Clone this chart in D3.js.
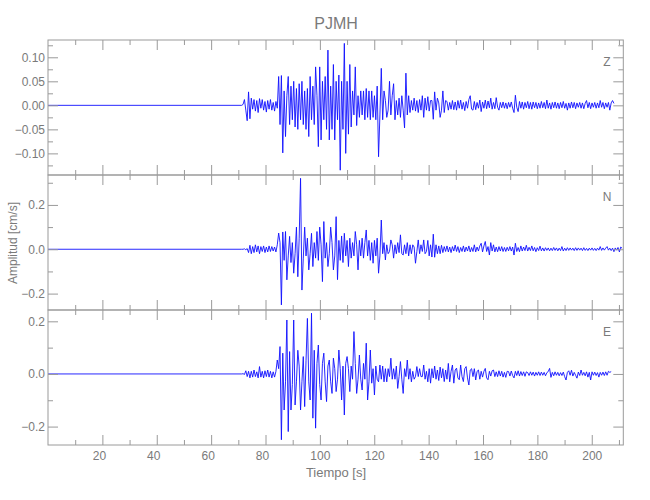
<!DOCTYPE html>
<html>
<head>
<meta charset="utf-8">
<script src="https://cdn.jsdelivr.net/npm/d3@7"></script>
<style>
  html, body { margin: 0; padding: 0; background: #fff; }
  svg { display: block; }
  text { font-family: "Liberation Sans", "DejaVu Sans", sans-serif; fill: #7a7a7a; }
</style>
</head>
<body>
<svg id="chart" width="650" height="500"></svg>
<script>
// ---------------- DATA ----------------
const stationName = "PJMH";
const componentNames = ["Z", "N", "E"];
const xLabel = "Tiempo [s]";
const yLabel = "Amplitud [cm/s]";

const recordStart = 0;        // s, record start (quiet before the onset)
const sampleStart = 71.25;    // s, first sample of the listed values
const sampleStep = 0.5033;    // s, spacing of the listed values

const timeDomain = [0, 211.6];
const timeMajorTicks = [20, 40, 60, 80, 100, 120, 140, 160, 180, 200];
const timeMinorTicks = [10, 30, 50, 70, 90, 110, 130, 150, 170, 190, 210];

const zDomain = [-0.145, 0.136];
const zMajorTicks = [-0.10, -0.05, 0.00, 0.05, 0.10];
const zMinorTicks = [-0.125, -0.075, -0.025, 0.025, 0.075, 0.125];

const nDomain = [-0.274, 0.335];
const nMajorTicks = [-0.2, 0.0, 0.2];
const nMinorTicks = [-0.1, 0.1, 0.3];

const eDomain = [-0.27, 0.243];
const eMajorTicks = [-0.2, 0.0, 0.2];
const eMinorTicks = [-0.1, 0.1];

const zValues = [
 0,0.002,0.012,-0.01,-0.032,0.028,-0.028,0.015,-0.008,0.012,
 -0.012,0.01,-0.015,0.014,-0.006,0.012,-0.01,0.008,-0.014,0.01,
 -0.008,0.012,-0.01,0.006,-0.012,0.008,-0.006,0.06,-0.04,0.062,
 -0.099,0.03,-0.065,0.02,0.06,-0.04,0.04,-0.03,0.05,-0.045,
 0.035,-0.05,0.045,-0.03,0.05,-0.04,0.03,-0.05,0.035,-0.065,
 0.06,-0.03,0.04,-0.04,0.08,0.02,-0.086,0.08,-0.072,0.05,
 -0.03,0.06,-0.05,0.115,-0.072,0.04,-0.05,0.085,-0.072,0.05,
 -0.03,0.063,-0.135,0.05,-0.05,0.129,-0.1,0.05,-0.06,0.085,
 -0.045,0.03,-0.02,0.08,-0.042,0.02,-0.025,0.03,-0.02,0.03,
 -0.03,0.035,-0.025,0.03,-0.03,0.03,-0.025,0.02,-0.03,0.04,
 -0.107,-0.02,0.077,-0.03,0.03,0.01,-0.025,-0.01,0.05,-0.02,
 0.02,0.045,-0.03,0.01,-0.02,0.015,-0.025,0.02,-0.01,-0.047,
 0.067,-0.02,0.02,-0.015,0.01,-0.01,0.015,-0.012,0.01,-0.015,
 0.012,-0.01,0.02,-0.025,0.015,-0.01,0.018,-0.012,0.01,0.01,
 -0.029,0.028,-0.01,0.015,0.005,-0.025,-0.01,0.03,-0.015,0.01,
 0.008,-0.01,0.006,-0.008,0.01,-0.009,0.007,-0.01,0.01,-0.006,
 0.011,-0.008,0.006,-0.011,0.008,-0.006,0.012,0.02,-0.008,-0.01,
 0.008,-0.009,0.006,-0.006,0.011,-0.013,0.007,-0.006,0.011,-0.007,
 0.009,-0.005,0.015,-0.008,0.006,-0.007,0.016,-0.004,-0.01,0.006,
 -0.005,0.007,-0.006,0.005,-0.007,0.006,-0.004,0.007,-0.006,-0.015,
 0.021,-0.004,-0.013,0.008,-0.006,0.007,-0.008,0.006,-0.005,0.008,
 -0.007,0.006,-0.008,0.007,-0.005,0.006,-0.007,0.005,-0.006,0.008,
 -0.005,0.006,-0.007,0.011,-0.006,0.005,-0.008,0.006,-0.005,0.007,
 -0.006,0.005,-0.007,0.006,-0.005,0.008,-0.006,0.004,-0.01,0.005,
 -0.006,0.007,-0.005,0.006,-0.007,0.005,-0.004,0.006,-0.006,0.005,
 -0.007,0.004,0.01,-0.005,0.006,-0.007,0.005,-0.004,0.006,-0.006,
 0.005,-0.005,0.01,-0.004,0.006,-0.007,0.005,-0.004,0.006,-0.01,
 0.005,0.01,0.004
];

const nValues = [
 0,0,0.002,-0.002,0.003,-0.015,0.018,-0.02,0.012,-0.015,
 0.02,-0.012,0.015,-0.02,0.012,-0.01,0.015,-0.015,0.01,-0.012,
 0.015,-0.01,0.012,-0.008,0.01,-0.012,0.02,0.073,0.03,-0.251,
 0.078,-0.05,0.08,-0.138,-0.03,0.058,-0.06,0.03,-0.108,-0.02,
 0.1,-0.124,0.05,0.32,-0.184,-0.04,0.1,-0.03,0.05,-0.093,
 -0.02,0.072,-0.078,0.03,-0.04,0.08,-0.05,0.1,0.02,-0.146,
 0.125,-0.04,0.03,-0.078,-0.02,0.1,0.03,-0.093,-0.03,0.147,
 -0.137,0.04,-0.05,0.06,-0.06,0.072,-0.03,0.04,-0.078,0.05,
 -0.04,0.03,-0.03,0.08,0.02,-0.093,0.04,-0.03,0.05,-0.04,
 0.03,0.087,-0.03,0.04,-0.05,0.03,-0.063,0.04,-0.03,0.05,
 -0.108,-0.03,0.132,-0.02,0.03,-0.048,0.02,-0.02,-0.01,0.042,
 0.02,-0.04,0.02,-0.02,0.03,-0.015,0.065,-0.02,-0.026,0.02,
 -0.02,0.03,-0.03,0.02,-0.02,0.02,0.01,-0.063,-0.01,0.042,
 -0.02,0.02,-0.01,0.042,-0.02,-0.01,0.04,-0.03,0.02,-0.035,
 0.068,-0.036,0.02,-0.02,0.015,-0.02,0.018,-0.015,0.012,-0.01,
 0.015,-0.012,0.01,-0.015,0.012,-0.008,0.019,-0.01,0.012,-0.015,
 0.008,-0.01,0.015,-0.012,0.01,-0.008,0.015,-0.012,0.008,-0.01,
 0.02,-0.012,0.01,-0.008,0.015,0.027,-0.012,0.015,0.035,-0.01,
 0.012,-0.026,0.03,-0.008,0.02,-0.012,0.01,-0.011,0.012,-0.008,
 0.012,-0.01,0.008,-0.01,0.009,-0.007,0.012,-0.008,0.01,-0.026,
 0.027,-0.01,0.008,-0.011,0.015,-0.008,0.01,-0.006,0.018,-0.008,
 0.009,-0.006,0.015,-0.007,0.008,-0.011,0.007,-0.006,0.014,-0.007,
 0.006,-0.008,0.007,-0.005,0.006,-0.007,0.005,-0.006,0.008,-0.005,
 0.006,-0.007,0.005,-0.006,0.012,-0.008,0.005,-0.006,0.007,-0.005,
 0.006,-0.004,0.005,-0.006,0.007,-0.005,0.006,-0.004,0.005,-0.006,
 0.007,-0.005,0.004,-0.006,0.005,-0.004,0.006,-0.005,0.004,-0.006,
 0.005,-0.004,0.012,-0.005,0.006,-0.004,0.005,0.012,-0.004,0.005,
 -0.006,0.005,-0.011,0.006,-0.004,0.008,-0.012,0.01,0.004
];

const eValues = [
 0,0.001,-0.002,0.012,-0.01,0.01,-0.015,0.01,-0.012,0.015,
 -0.01,0.008,-0.015,0.028,-0.012,0.01,-0.015,0.012,-0.01,0.015,
 -0.012,0.01,-0.015,0.008,-0.012,0.01,0.053,0.02,0.104,-0.25,
 0.079,-0.137,-0.03,0.205,-0.219,0.085,-0.137,-0.04,0.205,-0.118,
 -0.03,0.09,0.03,-0.137,-0.03,0.066,-0.124,0.05,0.211,-0.03,
 -0.099,0.231,-0.168,0.09,-0.206,0.04,0.11,-0.04,-0.099,0.04,
 0.079,-0.03,-0.105,0.03,0.053,-0.03,-0.074,0.06,0.02,-0.067,
 -0.02,0.091,0.02,-0.099,0.03,-0.156,0.04,0.066,0.02,-0.067,
 0.03,-0.02,0.161,0.04,-0.074,-0.02,0.072,-0.02,-0.061,0.04,
 -0.02,0.117,-0.099,-0.03,0.091,-0.035,0.02,-0.08,0.03,-0.02,
 -0.03,0.034,-0.02,0.03,-0.03,0.02,-0.03,0.02,-0.01,0.06,
 -0.02,0.02,-0.02,0.03,-0.055,-0.01,0.047,-0.02,-0.074,0.02,
 -0.01,0.053,-0.02,0.02,-0.03,0.01,-0.02,-0.01,0.028,-0.01,
 0.02,-0.01,-0.01,0.034,-0.02,0.01,-0.03,0.02,-0.035,0.02,
 -0.015,0.03,-0.02,0.015,-0.025,0.026,-0.015,0.02,-0.029,0.015,
 -0.02,0.04,-0.03,0.01,0.034,-0.035,0.015,0.022,-0.015,-0.022,
 0.034,-0.01,-0.029,0.02,0.028,-0.015,-0.042,0.015,0.02,-0.01,
 0.02,-0.023,0.01,0.015,-0.02,0.01,-0.012,0.01,0.021,-0.015,
 -0.022,0.01,-0.008,0.012,0.015,-0.01,0.008,-0.01,0.012,-0.008,
 0.01,-0.012,0.006,-0.013,0.01,0.009,-0.008,0.011,-0.006,-0.015,
 0.01,-0.006,0.012,-0.008,0.009,-0.006,0.008,-0.009,0.008,0.005,
 -0.006,0.008,-0.005,0.007,-0.008,0.006,-0.005,0.008,-0.006,0.007,
 -0.005,0.006,-0.007,0.005,0.009,0.021,-0.013,0.006,-0.007,0.008,
 -0.005,0.006,-0.007,0.005,-0.006,0.007,-0.01,-0.023,0.006,0.012,
 -0.005,0.014,-0.008,0.006,-0.005,-0.016,0.007,-0.006,0.015,-0.005,
 0.006,-0.007,0.008,-0.012,0.006,-0.023,0.008,-0.005,0.007,-0.006,
 0.005,-0.012,0.006,-0.005,0.007,-0.006,0.008,-0.005,0.01,0.006,
 0.009
];

// ---------------- LAYOUT ----------------
const plotLeft = 48, plotRight = 623.3;
const panelTops = [40, 175, 310];
const panelHeight = 135;
const axisColor = "#9a9a9a";
const traceColor = "#1010ff";

const panels = [
  { name: componentNames[0], values: zValues, domain: zDomain, major: zMajorTicks, minor: zMinorTicks, fmt: d3.format(".2f") },
  { name: componentNames[1], values: nValues, domain: nDomain, major: nMajorTicks, minor: nMinorTicks, fmt: d3.format(".1f") },
  { name: componentNames[2], values: eValues, domain: eDomain, major: eMajorTicks, minor: eMinorTicks, fmt: d3.format(".1f") }
];

const svg = d3.select("#chart");
const x = d3.scaleLinear().domain(timeDomain).range([plotLeft, plotRight]);
const minusFmt = f => (d => f(d).replace("-", "\u2212"));

panels.forEach((p, k) => {
  const top = panelTops[k], bottom = top + panelHeight;
  const y = d3.scaleLinear().domain(p.domain).range([bottom, top]);

  const clipId = "clip" + k;
  svg.append("clipPath").attr("id", clipId)
    .append("rect").attr("x", plotLeft).attr("y", top)
    .attr("width", plotRight - plotLeft).attr("height", panelHeight);

  const pts = [[recordStart, 0]].concat(p.values.map((v, i) => [sampleStart + i * sampleStep, v]));
  const line = d3.line().x(d => x(d[0])).y(d => y(d[1]));
  svg.append("path")
    .attr("clip-path", `url(#${clipId})`)
    .attr("d", line(pts))
    .attr("fill", "none")
    .attr("stroke", traceColor)
    .attr("stroke-width", 0.9)
    .attr("stroke-linejoin", "round");

  // y axes (left with labels, right mirrored) — ticks point inward
  const gL = svg.append("g").attr("transform", `translate(${plotLeft},0)`)
    .call(d3.axisLeft(y).tickValues(p.major).tickSize(-10).tickPadding(3).tickFormat(minusFmt(p.fmt)));
  svg.append("g").attr("transform", `translate(${plotLeft},0)`)
    .call(d3.axisLeft(y).tickValues(p.minor).tickSize(-5).tickFormat(""));
  svg.append("g").attr("transform", `translate(${plotRight},0)`)
    .call(d3.axisRight(y).tickValues(p.major).tickSize(-10).tickFormat(""));
  svg.append("g").attr("transform", `translate(${plotRight},0)`)
    .call(d3.axisRight(y).tickValues(p.minor).tickSize(-5).tickFormat(""));

  // x axes (top and bottom of each panel)
  svg.append("g").attr("transform", `translate(0,${top})`)
    .call(d3.axisTop(x).tickValues(timeMajorTicks).tickSize(-10).tickFormat(""));
  svg.append("g").attr("transform", `translate(0,${top})`)
    .call(d3.axisTop(x).tickValues(timeMinorTicks).tickSize(-5).tickFormat(""));
  const gB = svg.append("g").attr("transform", `translate(0,${bottom})`)
    .call(d3.axisBottom(x).tickValues(timeMajorTicks).tickSize(-10).tickPadding(6)
      .tickFormat(k === panels.length - 1 ? d3.format("d") : ""));
  svg.append("g").attr("transform", `translate(0,${bottom})`)
    .call(d3.axisBottom(x).tickValues(timeMinorTicks).tickSize(-5).tickFormat(""));
  if (k === panels.length - 1) {
    gB.selectAll(".tick text").attr("dx", d => d < 100 ? -3.5 : 0);
  }

  // frame
  svg.append("rect").attr("x", plotLeft).attr("y", top)
    .attr("width", plotRight - plotLeft).attr("height", panelHeight)
    .attr("fill", "none").attr("stroke", axisColor).attr("stroke-width", 1);

  // component label
  svg.append("text").attr("x", 607).attr("y", top + 26 - (k === 1 ? 0 : 0))
    .attr("text-anchor", "middle").attr("font-size", 12).text(p.name);
});

svg.selectAll(".domain").remove();
svg.selectAll(".tick line").attr("stroke", axisColor);
svg.selectAll(".tick text").attr("fill", "#7a7a7a").attr("font-size", 12)
  .attr("font-family", "Liberation Sans, DejaVu Sans, sans-serif");

// titles
svg.append("text").attr("x", 336).attr("y", 29).attr("text-anchor", "middle")
  .attr("font-size", 16).text(stationName);
svg.append("text").attr("x", 336).attr("y", 477).attr("text-anchor", "middle")
  .attr("font-size", 13).text(xLabel);
svg.append("text").attr("transform", "translate(17,243) rotate(-90)")
  .attr("text-anchor", "middle").attr("font-size", 12).text(yLabel);
</script>
</body>
</html>
